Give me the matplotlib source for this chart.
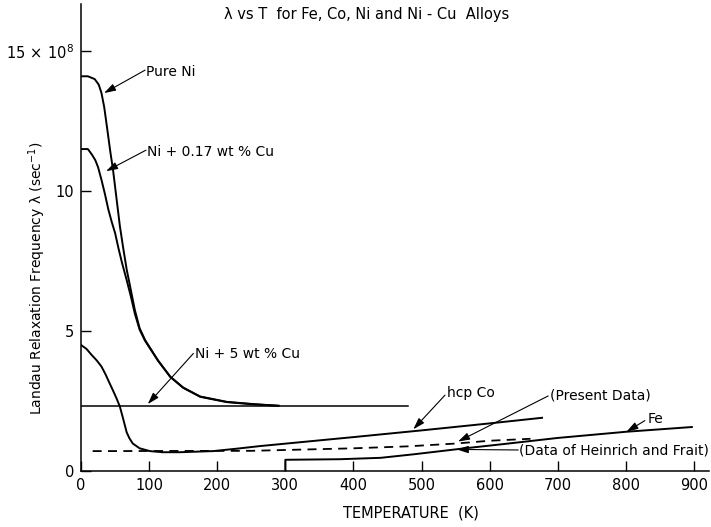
import matplotlib
matplotlib.use('Agg')
import matplotlib.pyplot as plt

# ── data (T in K, lambda in 1e8 sec^-1) ──
pure_ni_t = [0, 10, 20, 26, 30, 34, 38, 43, 47, 52, 57, 62, 67, 72, 79, 86, 94, 113, 131, 150, 175, 214, 253, 290]
pure_ni_l = [14.1, 14.1, 14.0, 13.8, 13.5, 13.0, 12.3, 11.4, 10.75, 9.75, 8.75, 7.95, 7.2, 6.6, 5.75, 5.1, 4.68, 3.95, 3.37, 2.98, 2.66, 2.47, 2.39, 2.33]

ni017_t = [0, 10, 16, 21, 25, 30, 35, 40, 45, 50, 55, 60, 67, 73, 79, 86, 94, 113, 131, 150, 175, 214, 253, 290]
ni017_l = [11.5, 11.5, 11.3, 11.1, 10.85, 10.4, 9.9, 9.35, 8.9, 8.5, 7.95, 7.45, 6.82, 6.25, 5.62, 5.05, 4.65, 3.94, 3.36, 2.97, 2.65, 2.46, 2.38, 2.33]

ni5cu_t = [0, 480]
ni5cu_l = [2.33, 2.33]

hcp_co_t = [0, 8, 15, 23, 30, 36, 42, 47, 52, 57, 62, 67, 71, 76, 86, 101, 120, 145, 194, 230, 263, 400, 500, 600, 677]
hcp_co_l = [4.5, 4.36, 4.16, 3.95, 3.73, 3.45, 3.13, 2.87, 2.6, 2.3, 1.85, 1.38, 1.17, 0.98, 0.81, 0.71, 0.67, 0.67, 0.71, 0.8, 0.89, 1.21, 1.45, 1.70, 1.90]

fe_present_t = [17, 250, 400, 480, 550, 600, 660]
fe_present_l = [0.71, 0.72, 0.81, 0.88, 0.98, 1.08, 1.15]

fe_hf_t = [300, 300, 380, 440, 490, 560, 620, 700, 800, 897]
fe_hf_l = [0.0, 0.40, 0.42, 0.47, 0.60, 0.80, 0.96, 1.18, 1.40, 1.57]

x_ticks = [0, 100, 200, 300, 400, 500, 600, 700, 800, 900]
y_ticks = [0, 5, 10, 15]
y_tick_labels = ['0', '5', '10', r'15$\,\times\,$10$^8$']

plt.rcParams['font.family'] = ['DejaVu Sans']
plt.rcParams['mathtext.default'] = 'regular'

fig = plt.figure(figsize=(7.11, 5.27), dpi=100)
ax = fig.add_axes([0.114, 0.1063, 0.883, 0.886])
ax.set_xlim(0, 922)
ax.set_ylim(0, 16.68)

LW = 1.4
ax.plot(pure_ni_t, pure_ni_l, color='k', lw=LW)
ax.plot(ni017_t, ni017_l, color='k', lw=LW)
ax.plot(ni5cu_t, ni5cu_l, color='k', lw=1.1)
ax.plot(hcp_co_t, hcp_co_l, color='k', lw=LW)
ax.plot(fe_present_t, fe_present_l, color='k', lw=1.3, ls=(0, (5, 3.5)))
ax.plot(fe_hf_t, fe_hf_l, color='k', lw=LW)

for s in ['top', 'right']:
    ax.spines[s].set_visible(False)
for s in ['left', 'bottom']:
    ax.spines[s].set_linewidth(1.1)

ax.set_xticks(x_ticks)
ax.set_yticks(y_ticks)
ax.set_yticklabels(y_tick_labels)
ax.tick_params(direction='in', length=7, width=1.0, labelsize=10.5, pad=5)

ax.text(-0.07, 0.413, 'Landau Relaxation Frequency λ (sec$^{-1}$)',
        transform=ax.transAxes, rotation=90, ha='center', va='center', fontsize=10)
ax.text(0.525, -0.09, 'TEMPERATURE  (K)', transform=ax.transAxes,
        ha='center', va='center', fontsize=10.5)

ax.text(210, 16.32, 'λ vs T  for Fe, Co, Ni and Ni - Cu  Alloys',
        ha='left', va='center', fontsize=10.5)

# ── labels with arrows ──
def label(txt, tail, tip, at):
    ax.annotate('', xy=tip, xytext=tail,
                arrowprops=dict(arrowstyle='-|>,head_length=0.7,head_width=0.22',
                                color='k', lw=0.8, shrinkA=0, shrinkB=0,
                                mutation_scale=10))
    ax.text(at[0], at[1], txt, ha='left', va='center', fontsize=10)

label('Pure Ni', (94, 14.32), (33.8, 13.5), (96, 14.25))
label('Ni + 0.17 wt % Cu', (95.4, 11.46), (36.7, 10.71), (97, 11.39))
label('Ni + 5 wt % Cu', (165, 4.2), (98, 2.39), (167, 4.18))
label('hcp Co', (534.5, 2.71), (488, 1.49), (538, 2.8))
label('(Present Data)', (686, 2.68), (553.6, 1.05), (689, 2.71))
label('Fe', (828, 1.8), (801, 1.40), (832, 1.85))
label('(Data of Heinrich and Frait)', (642, 0.75), (551.7, 0.77), (643, 0.73))

fig.savefig('out.png', dpi=100, facecolor='white')
plt.close(fig)
